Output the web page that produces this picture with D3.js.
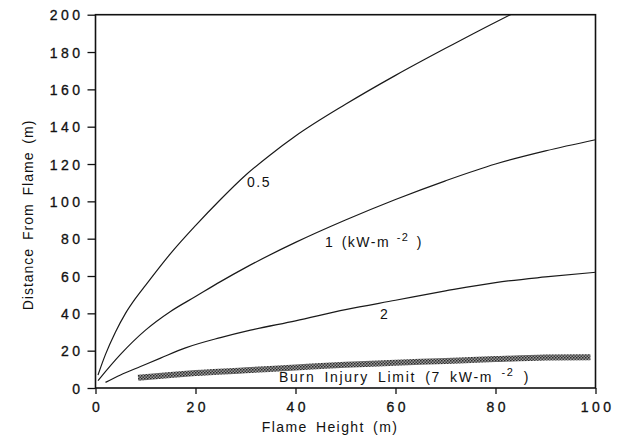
<!DOCTYPE html>
<html>
<head>
<meta charset="utf-8">
<script src="https://cdn.jsdelivr.net/npm/d3@7"></script>
<style>
  body { margin: 0; background: #fff; }
  svg { font-family: "Liberation Sans", Arial, sans-serif; }
</style>
</head>
<body>
<svg id="chart" width="623" height="437"></svg>
<script>
// ================= DATA ===================
// flame height (m) vs distance from flame (m)
const flux05X = [0.5, 2, 4, 6, 8, 10, 15, 20, 25, 30, 35, 40, 50, 60, 70, 80, 86];
const flux05Y = [7, 18, 30, 40, 48, 55, 72, 87, 101, 114, 125, 135, 152, 167.5, 182, 196, 204];

const flux1X = [0.5, 5, 10, 15, 20, 25, 30, 40, 50, 60, 70, 80, 90, 100];
const flux1Y = [4, 18, 31, 41, 49, 57, 64.5, 78, 90, 101, 111, 120, 127, 133];

const flux2X = [2, 5, 9, 13, 18, 25, 31, 40, 50, 60, 70, 80, 90, 100];
const flux2Y = [3, 7, 11.5, 16, 21.5, 27, 31, 36, 42, 47, 52, 56.5, 59.5, 62];

const burnX = [8.5, 15, 20, 30, 40, 50, 60, 70, 80, 90, 99];
const burnY = [5.5, 7, 8, 9.5, 11, 12.5, 13.5, 14.5, 15.5, 16.3, 16.5];

const xTicks = [0, 20, 40, 60, 80, 100];
const yTicks = [0, 20, 40, 60, 80, 100, 120, 140, 160, 180, 200];

// ================= SETUP ===================
const svg = d3.select("#chart");
const x = d3.scaleLinear().domain([0, 100]).range([95.5, 595.5]);
const y = d3.scaleLinear().domain([0, 200]).range([388, 14.7]);

const zip = (xs, ys) => xs.map((v, i) => [v, ys[i]]);

// hatched pattern for the burn band
const defs = svg.append("defs");
const pat = defs.append("pattern")
  .attr("id", "hatch")
  .attr("width", 3)
  .attr("height", 3)
  .attr("patternUnits", "userSpaceOnUse");
pat.append("rect").attr("width", 3).attr("height", 3).attr("fill", "#9a9a9a");
pat.append("rect").attr("width", 1.5).attr("height", 1.5).attr("fill", "#2a2a2a");
pat.append("rect").attr("x", 1.5).attr("y", 1.5).attr("width", 1.5).attr("height", 1.5).attr("fill", "#3a3a3a");

defs.append("clipPath").attr("id", "plotClip")
  .append("rect")
  .attr("x", x(0)).attr("y", y(200))
  .attr("width", x(100) - x(0)).attr("height", y(0) - y(200));

// ================= AXES ===================
const tickFont = (sel) => sel
  .attr("font-family", "'Liberation Sans', Arial, sans-serif")
  .attr("font-size", 14)
  .attr("letter-spacing", "3.5px")
  .attr("fill", "#111")
  .attr("stroke", "#111")
  .attr("stroke-width", 0.3);

const yAxis = svg.append("g")
  .attr("transform", `translate(${x(0)},0)`)
  .call(d3.axisLeft(y).tickValues(yTicks).tickSize(8).tickPadding(4));
yAxis.select(".domain").remove();
yAxis.selectAll("line").attr("stroke", "#111").attr("stroke-width", 1.3);
yAxis.selectAll("text").call(tickFont).attr("dy", "0.36em");

const xAxis = svg.append("g")
  .attr("transform", `translate(0,${y(0)})`)
  .call(d3.axisBottom(x).tickValues(xTicks).tickSize(6).tickPadding(8));
xAxis.select(".domain").remove();
xAxis.selectAll("line").attr("stroke", "#111").attr("stroke-width", 1.3);
xAxis.selectAll("text").call(tickFont).attr("dx", "1.7px");

// frame
svg.append("rect")
  .attr("x", x(0)).attr("y", y(200))
  .attr("width", x(100) - x(0)).attr("height", y(0) - y(200))
  .attr("fill", "none")
  .attr("stroke", "#111")
  .attr("stroke-width", 1.6);

// axis titles
svg.append("text")
  .attr("x", 330).attr("y", 432)
  .attr("text-anchor", "middle")
  .attr("font-size", 14)
  .attr("letter-spacing", "1.4px")
  .attr("word-spacing", "3px")
  .attr("fill", "#111")
  .text("Flame Height (m)");

svg.append("text")
  .attr("transform", "translate(33,215) rotate(-90)")
  .attr("text-anchor", "middle")
  .attr("font-size", 14)
  .attr("letter-spacing", "1px")
  .attr("word-spacing", "3px")
  .attr("fill", "#111")
  .text("Distance From Flame (m)");

// ================= CURVES ===================
const line = d3.line()
  .x((d) => x(d[0]))
  .y((d) => y(d[1]))
  .curve(d3.curveMonotoneX);

const plot = svg.append("g").attr("clip-path", "url(#plotClip)");

plot.append("path")
  .datum(zip(burnX, burnY))
  .attr("d", line)
  .attr("fill", "none")
  .attr("stroke", "url(#hatch)")
  .attr("stroke-width", 6);

[zip(flux05X, flux05Y), zip(flux1X, flux1Y), zip(flux2X, flux2Y)].forEach((pts) => {
  plot.append("path")
    .datum(pts)
    .attr("d", line)
    .attr("fill", "none")
    .attr("stroke", "#1a1a1a")
    .attr("stroke-width", 1.2);
});

// ================= CURVE LABELS ===================
function label(px, py, main, sup, tail, ls = 1.5, ws = 2) {
  const t = svg.append("text")
    .attr("x", px).attr("y", py)
    .attr("font-size", 14)
    .attr("letter-spacing", ls + "px")
    .attr("word-spacing", ws + "px")
    .attr("fill", "#111")
    .text(main);
  if (sup) {
    t.append("tspan").attr("dy", -6).attr("font-size", 11).text(sup);
    t.append("tspan").attr("dy", 6).text(tail);
  }
}

label(247, 187, "0.5");
label(325, 247, "1 (kW-m", " -2", " )");
label(380, 319, "2");
label(279, 382, "Burn Injury Limit (7 kW-m", " -2", " )", 1.7, 3.5);
</script>
</body>
</html>
